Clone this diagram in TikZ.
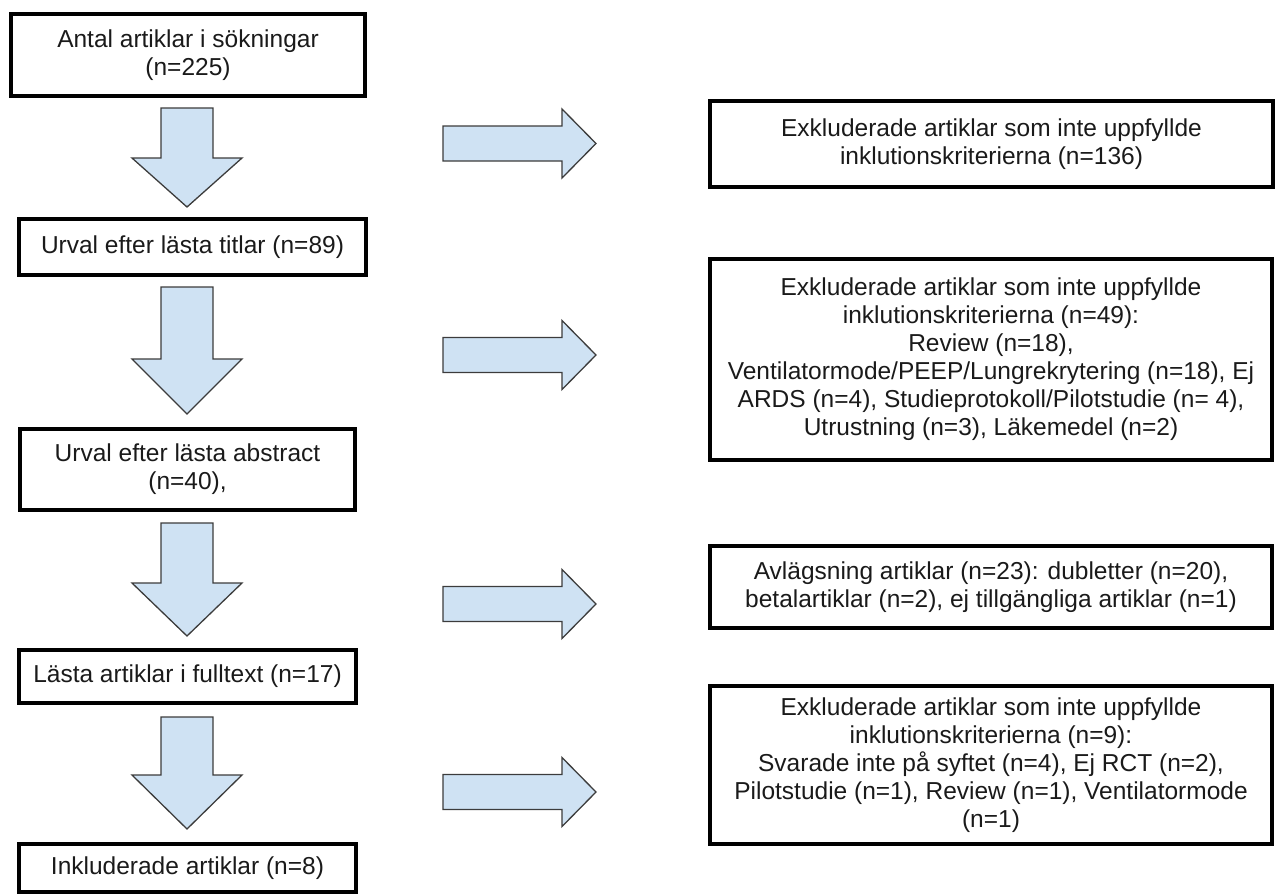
\documentclass[tikz,border=0pt]{standalone}
\usepackage{fontspec}
\setmainfont{Liberation Sans}
\definecolor{arrfill}{HTML}{CFE2F3}
\definecolor{arrline}{HTML}{3C3C3C}
\definecolor{txt}{HTML}{1A1A1A}
\tikzset{
  box/.style={draw=black, line width=3.6pt, rectangle, align=center, inner sep=0pt,
              text=txt, font=\fontsize{24.5}{28}\selectfont},
  blockarr/.style={draw=arrline, fill=arrfill, line width=1.3pt, line join=miter}
}
\newcommand{\DArr}[3]{\draw[blockarr] (161,#1) -- (213,#1) -- (213,#2) -- (242,#2) -- (187,#3) -- (132,#2) -- (161,#2) -- cycle;}
\newcommand{\RArr}[1]{\draw[blockarr] (443,#1-17.5) -- (562,#1-17.5) -- (562,#1-34.5) -- (596,#1) -- (562,#1+34.5) -- (562,#1+17.5) -- (443,#1+17.5) -- cycle;}
\begin{document}
\begin{tikzpicture}[x=1pt,y=-1pt]
\useasboundingbox (0,0) rectangle (1277,895);
% left column
\node[box, minimum width=354pt, minimum height=82pt] (b1) at (188,55) {Antal artiklar i sökningar\\(n=225)};
\node[box, minimum width=347pt, minimum height=56pt] (b2) at (192.5,247) {Urval efter lästa titlar (n=89)};
\node[box, minimum width=335pt, minimum height=81pt] (b3) at (187.5,469.5) {Urval efter lästa abstract\\(n=40),};
\node[box, minimum width=337pt, minimum height=53pt] (b4) at (187.5,676.5) {Lästa artiklar i fulltext (n=17)};
\node[box, minimum width=337pt, minimum height=48pt] (b5) at (187.5,868) {Inkluderade artiklar (n=8)};
% right column
\node[box, minimum width=563pt, minimum height=86pt] (r1) at (991.5,144) {Exkluderade artiklar som inte uppfyllde\\inklutionskriterierna (n=136)};
\node[box, minimum width=562pt, minimum height=201pt] (r2) at (991,359.5) {Exkluderade artiklar som inte uppfyllde\\inklutionskriterierna (n=49):\\Review (n=18),\\Ventilatormode/PEEP/Lungrekrytering (n=18), Ej\\ARDS (n=4), Studieprotokoll/Pilotstudie (n= 4),\\Utrustning (n=3), Läkemedel (n=2)};
\node[box, minimum width=562pt, minimum height=82pt] (r3) at (991,587) {Avlägsning artiklar (n=23): dubletter (n=20),\\betalartiklar (n=2), ej tillgängliga artiklar (n=1)};
\node[box, minimum width=562pt, minimum height=158pt] (r4) at (991,765) {Exkluderade artiklar som inte uppfyllde\\inklutionskriterierna (n=9):\\Svarade inte på syftet (n=4), Ej RCT (n=2),\\Pilotstudie (n=1), Review (n=1), Ventilatormode\\(n=1)};
% down arrows
\DArr{108}{158}{207}
\DArr{287}{359}{414}
\DArr{523}{583}{636}
\DArr{717}{775}{829}
% right arrows
\RArr{143.5}
\RArr{355}
\RArr{604}
\RArr{792}
\end{tikzpicture}
\end{document}
